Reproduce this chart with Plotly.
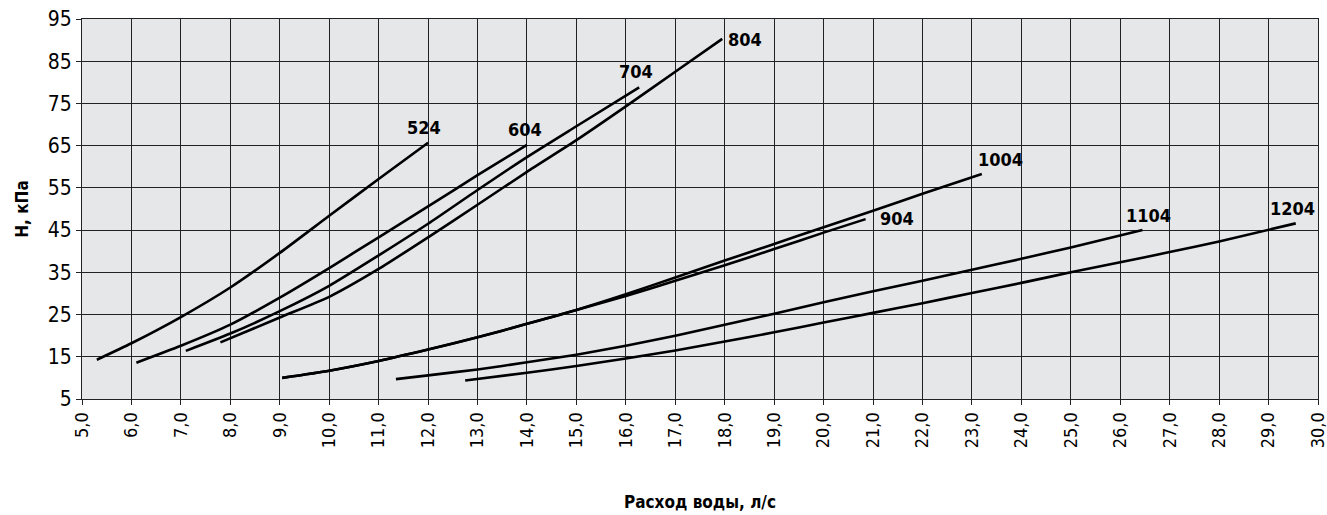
"""
Pressure drop vs water flow for the model range (524 ... 1204).
"""

import plotly.graph_objs as go

# flow, l/s  /  pressure drop, kPa
models = ["524", "604", "704", "804", "904", "1004", "1104", "1204"]

x_524 = [5.3, 6.0, 7.0, 8.0, 9.0, 10.0, 11.0, 12.0]
y_524 = [14.3, 18.2, 24.4, 31.4, 39.6, 48.4, 57.1, 65.7]

x_604 = [6.1, 7.0, 8.0, 9.0, 10.0, 11.0, 12.0, 13.0, 14.0]
y_604 = [13.6, 17.6, 22.6, 29.0, 36.0, 43.3, 50.6, 58.0, 65.2]

x_704 = [7.1, 8.0, 9.0, 10.0, 11.0, 12.0, 13.0, 14.0, 15.0, 16.27]
y_704 = [16.4, 20.5, 25.8, 31.8, 39.0, 46.5, 54.5, 62.3, 69.6, 78.8]

x_804 = [7.8, 9.0, 10.0, 11.0, 12.0, 13.0, 14.0, 15.0, 16.0, 17.0, 17.95]
y_804 = [18.4, 24.3, 29.2, 35.8, 43.3, 51.0, 58.8, 66.3, 74.3, 82.5, 90.3]

x_904 = [9.05, 10.0, 11.0, 12.0, 13.0, 14.0, 15.0, 16.0, 17.0, 18.0, 19.0, 20.0, 20.85]
y_904 = [10.0, 11.7, 14.0, 16.7, 19.6, 22.8, 26.1, 29.4, 33.0, 36.7, 40.5, 44.4, 47.6]

x_1004 = [9.05, 10.0, 11.0, 12.0, 13.0, 14.0, 15.0, 16.0, 17.0, 18.0, 19.0, 20.0, 21.0, 22.0, 23.2]
y_1004 = [10.0, 11.7, 14.0, 16.7, 19.6, 22.8, 26.1, 29.8, 33.8, 37.8, 41.7, 45.7, 49.6, 53.6, 58.3]

x_1104 = [11.35, 12.0, 13.0, 14.0, 15.0, 16.0, 17.0, 18.0, 19.0, 20.0, 21.0, 22.0, 23.0, 24.0, 25.0, 26.45]
y_1104 = [9.7, 10.6, 12.0, 13.7, 15.5, 17.6, 20.0, 22.6, 25.2, 27.9, 30.5, 33.0, 35.6, 38.2, 40.9, 45.0]

x_1204 = [12.75, 14.0, 15.0, 16.0, 17.0, 18.0, 19.0, 20.0, 21.0, 22.0, 23.0, 24.0, 25.0, 26.0, 27.0, 28.0, 29.55]
y_1204 = [9.4, 11.2, 12.8, 14.6, 16.5, 18.6, 20.8, 23.1, 25.4, 27.7, 30.1, 32.5, 35.0, 37.4, 39.8, 42.3, 46.6]

xs = [x_524, x_604, x_704, x_804, x_904, x_1004, x_1104, x_1204]
ys = [y_524, y_604, y_704, y_804, y_904, y_1004, y_1104, y_1204]

x_ticks = list(range(5, 31))
x_tick_labels = [f"{v},0" for v in x_ticks]
y_ticks = list(range(5, 96, 10))

FONT = "Liberation Sans Narrow, DejaVu Sans Condensed, Roboto Condensed, Arial Narrow, Roboto, sans-serif"

# where the model label sits relative to the curve end: (xanchor, yanchor, xshift, yshift)
label_place = {
    "524": ("center", "bottom", -4, 3),
    "604": ("center", "bottom", -2, 3),
    "704": ("center", "bottom", -3, 3),
    "804": ("left", "middle", 4, -1),
    "904": ("left", "middle", 12, 1),
    "1004": ("left", "bottom", -6, 2),
    "1104": ("left", "bottom", -18, 2),
    "1204": ("center", "bottom", -3, 2),
}

fig = go.Figure()
for name, x, y in zip(models, xs, ys):
    fig.add_trace(go.Scatter(
        x=x, y=y, mode="lines", name=name,
        line=dict(color="black", width=2.6, shape="spline", smoothing=0.6),
    ))
    xa, ya, dx, dy = label_place[name]
    fig.add_annotation(
        x=x[-1], y=y[-1], text=f"<b>{name}</b>", showarrow=False,
        xanchor=xa, yanchor=ya, xshift=dx, yshift=dy,
        font=dict(family=FONT, size=18, color="black"),
    )

fig.update_layout(
    width=1327, height=515,
    margin=dict(l=82, r=9, t=19, b=116, autoexpand=False),
    paper_bgcolor="white",
    plot_bgcolor="#e6e7e9",
    showlegend=False,
    font=dict(family=FONT, size=19, color="black"),
)
fig.update_xaxes(
    range=[5, 30], tickvals=x_ticks, ticktext=x_tick_labels, tickangle=-90,
    showgrid=True, gridcolor="#222", gridwidth=1,
    showline=True, linecolor="#222", linewidth=1, mirror=True,
    ticks="outside", ticklen=5, tickcolor="#222",
    tickfont=dict(family=FONT, size=18),
    ticklabeloverflow="allow", automargin=False,
    zeroline=False,
    title=dict(text="<b>Расход воды, л/с</b>", font=dict(family=FONT, size=17), standoff=48),
)
fig.update_yaxes(
    range=[5, 95], tickvals=y_ticks,
    showgrid=True, gridcolor="#222", gridwidth=1,
    showline=True, linecolor="#222", linewidth=1, mirror=True,
    ticks="outside", ticklen=5, tickcolor="#222",
    tickfont=dict(family=FONT, size=21),
    ticklabeloverflow="allow", automargin=False,
    zeroline=False,
    title=dict(text="<b>Н, кПа</b>", font=dict(family=FONT, size=17), standoff=14),
)

# drop the browser's default body margin so the figure sits at the page corner
fig.write_html(
    "out.html",
    config={"displayModeBar": False},
    post_script="document.body.style.margin = '0';",
)
